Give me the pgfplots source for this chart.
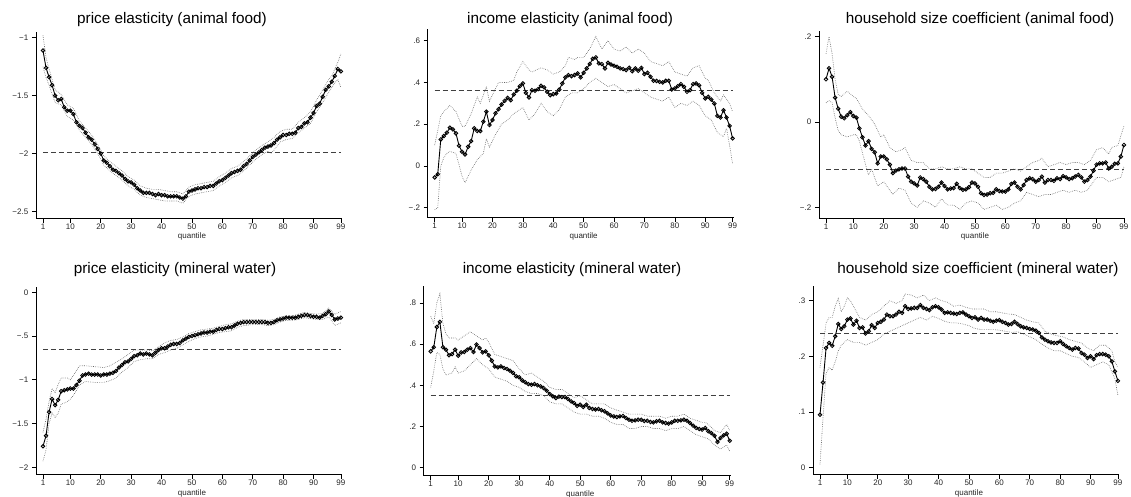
\documentclass[border=0pt]{standalone}
\usepackage{pgfplots}
\pgfplotsset{compat=1.18}
\usepackage{fontspec}
\setmainfont{Liberation Sans}

\pgfplotsset{
  qplot/.style={
    scale only axis, width=305.8pt, xmin=-1.3, xmax=99.3,
    axis x line*=bottom, axis y line*=left,
    axis line style={black, line width=0.7pt},
    tick align=outside, major tick length=4.2pt,
    every tick/.style={black, line width=0.6pt},
    xtick={1,10,20,30,40,50,60,70,80,90,99},
    xticklabels={1,10,20,30,40,50,60,70,80,90,99},
    ticklabel style={font=\fontsize{8}{9}\selectfont, text=black!85},
    xticklabel style={yshift=2.5pt},
    xlabel={quantile},
    xlabel style={font=\fontsize{8}{9}\selectfont, text=black!85, at={(axis description cs:0.51,0)}, anchor=center, yshift=-18.4pt},
    clip=false,
  },
  est/.style={black, line width=0.9pt, mark=o, mark size=1.8pt, mark options={line width=0.85pt, solid}},
  ols/.style={black!75, line width=1pt, dash pattern=on 5pt off 3pt, no marks},
  band/.style={black!60, line width=0.65pt, dash pattern=on 0.6pt off 1.2pt, no marks},
}
\newcommand{\ttl}{\fontsize{15.3}{17}\selectfont}

\begin{document}
\begin{tikzpicture}
\useasboundingbox (0,0) rectangle (1131pt,496pt);

% ---------- price elasticity (animal food)
\begin{axis}[qplot, at={(36pt,277.7pt)}, anchor=south west, height=186.3pt,
  ymin=-2.56, ymax=-0.95, ytick={-2.5,-2,-1.5,-1}, yticklabels={−2.5,−2,−1.5,−1}]
\addplot[band] coordinates {(1,-0.98)(2,-1.17)(3,-1.27)(5,-1.45)(7,-1.49)(9,-1.58)(11,-1.61)(13,-1.72)(15,-1.78)(17,-1.84)(19,-1.92)(21,-2.02)(23,-2.07)(25,-2.11)(27,-2.15)(29,-2.20)(31,-2.23)(33,-2.28)(35,-2.30)(37,-2.31)(39,-2.31)(41,-2.32)(43,-2.33)(45,-2.33)(47,-2.35)(49,-2.29)(51,-2.27)(53,-2.26)(55,-2.25)(57,-2.24)(59,-2.20)(61,-2.17)(63,-2.13)(65,-2.11)(67,-2.07)(69,-2.02)(71,-1.97)(73,-1.93)(75,-1.90)(77,-1.86)(79,-1.81)(81,-1.79)(83,-1.79)(85,-1.73)(87,-1.69)(89,-1.64)(91,-1.54)(93,-1.45)(95,-1.36)(96,-1.33)(97,-1.27)(98,-1.21)(99,-1.14)};
\addplot[band] coordinates {(1,-1.25)(2,-1.34)(3,-1.41)(5,-1.56)(7,-1.58)(9,-1.68)(11,-1.71)(13,-1.80)(15,-1.86)(17,-1.92)(19,-2.00)(21,-2.10)(23,-2.15)(25,-2.19)(27,-2.23)(29,-2.28)(31,-2.31)(33,-2.36)(35,-2.38)(37,-2.39)(39,-2.40)(41,-2.41)(43,-2.41)(45,-2.41)(47,-2.43)(49,-2.37)(51,-2.35)(53,-2.34)(55,-2.33)(57,-2.32)(59,-2.28)(61,-2.25)(63,-2.21)(65,-2.19)(67,-2.15)(69,-2.10)(71,-2.05)(73,-2.01)(75,-1.98)(76,-2.00)(77,-1.97)(79,-1.90)(81,-1.88)(83,-1.87)(85,-1.82)(87,-1.78)(89,-1.74)(91,-1.64)(93,-1.56)(95,-1.47)(96,-1.43)(97,-1.39)(98,-1.36)(99,-1.43)};
\addplot[ols] coordinates {(1,-1.99)(99,-1.99)};
\addplot[est] table[row sep=\\, x=q, y=v] {q v\\
1 -1.11\\ 2 -1.26\\ 3 -1.34\\ 4 -1.41\\ 5 -1.50\\ 6 -1.54\\ 7 -1.53\\ 8 -1.60\\ 9 -1.63\\ 10 -1.63\\
11 -1.66\\ 12 -1.73\\ 13 -1.76\\ 14 -1.78\\ 15 -1.82\\ 16 -1.86\\ 17 -1.88\\ 18 -1.92\\ 19 -1.96\\ 20 -2.00\\
21 -2.06\\ 22 -2.08\\ 23 -2.11\\ 24 -2.14\\ 25 -2.15\\ 26 -2.17\\ 27 -2.19\\ 28 -2.22\\ 29 -2.24\\ 30 -2.25\\
31 -2.27\\ 32 -2.30\\ 33 -2.32\\ 34 -2.34\\ 35 -2.34\\ 36 -2.34\\ 37 -2.35\\ 38 -2.36\\ 39 -2.35\\ 40 -2.36\\
41 -2.36\\ 42 -2.37\\ 43 -2.37\\ 44 -2.37\\ 45 -2.37\\ 46 -2.38\\ 47 -2.39\\ 48 -2.37\\ 49 -2.33\\ 50 -2.32\\
51 -2.31\\ 52 -2.30\\ 53 -2.30\\ 54 -2.29\\ 55 -2.29\\ 56 -2.28\\ 57 -2.28\\ 58 -2.26\\ 59 -2.24\\ 60 -2.23\\
61 -2.21\\ 62 -2.19\\ 63 -2.17\\ 64 -2.16\\ 65 -2.15\\ 66 -2.14\\ 67 -2.11\\ 68 -2.09\\ 69 -2.06\\ 70 -2.03\\
71 -2.01\\ 72 -1.99\\ 73 -1.97\\ 74 -1.95\\ 75 -1.94\\ 76 -1.93\\ 77 -1.91\\ 78 -1.88\\ 79 -1.86\\ 80 -1.84\\
81 -1.84\\ 82 -1.83\\ 83 -1.83\\ 84 -1.82\\ 85 -1.78\\ 86 -1.77\\ 87 -1.74\\ 88 -1.73\\ 89 -1.69\\ 90 -1.65\\
91 -1.59\\ 92 -1.57\\ 93 -1.51\\ 94 -1.45\\ 95 -1.42\\ 96 -1.38\\ 97 -1.33\\ 98 -1.27\\ 99 -1.29\\};
\end{axis}

% ---------- income elasticity (animal food)
\begin{axis}[qplot, at={(427.7pt,278.3pt)}, anchor=south west, height=188.5pt,
  ymin=-0.248, ymax=0.655, ytick={-0.2,0,0.2,0.4,0.6}, yticklabels={−.2,0,.2,.4,.6}]
\addplot[band] coordinates {(1,0.10)(2,0.17)(3,0.24)(4,0.26)(6,0.29)(8,0.26)(10,0.19)(11,0.19)(13,0.25)(15,0.33)(16,0.30)(18,0.38)(19,0.31)(20,0.34)(22,0.40)(25,0.40)(27,0.41)(28,0.45)(30,0.50)(32,0.46)(33,0.45)(36,0.47)(38,0.46)(40,0.44)(42,0.45)(44,0.48)(45,0.52)(47,0.51)(48,0.52)(50,0.52)(52,0.56)(54,0.62)(56,0.56)(58,0.60)(60,0.56)(62,0.55)(64,0.57)(66,0.54)(68,0.56)(70,0.54)(72,0.50)(74,0.49)(76,0.48)(78,0.50)(80,0.45)(82,0.44)(84,0.43)(86,0.47)(88,0.48)(90,0.42)(91,0.41)(93,0.35)(95,0.31)(96,0.34)(98,0.30)(99,0.26)};
\addplot[band] coordinates {(1,-0.21)(2,-0.20)(3,0.00)(4,0.04)(5,0.06)(6,0.07)(8,0.06)(10,-0.05)(11,-0.08)(13,-0.02)(15,0.03)(17,0.06)(18,0.13)(19,0.09)(21,0.15)(23,0.20)(25,0.22)(27,0.25)(30,0.28)(32,0.22)(34,0.25)(36,0.30)(38,0.26)(40,0.24)(42,0.27)(44,0.33)(46,0.35)(48,0.35)(50,0.37)(52,0.40)(54,0.42)(56,0.40)(58,0.38)(60,0.39)(62,0.37)(64,0.35)(66,0.36)(68,0.37)(70,0.35)(72,0.33)(74,0.32)(76,0.31)(78,0.33)(80,0.28)(82,0.30)(84,0.29)(86,0.31)(88,0.29)(90,0.24)(92,0.22)(94,0.16)(96,0.14)(97,0.18)(98,0.10)(99,0.01)};
\addplot[ols] coordinates {(1,0.36)(99,0.36)};
\addplot[est] table[row sep=\\, x=q, y=v] {q v\\
1 -0.055\\ 2 -0.04\\ 3 0.127\\ 4 0.143\\ 5 0.159\\ 6 0.183\\ 7 0.175\\ 8 0.156\\ 9 0.097\\ 10 0.068\\
11 0.055\\ 12 0.092\\ 13 0.119\\ 14 0.18\\ 15 0.167\\ 16 0.167\\ 17 0.212\\ 18 0.26\\ 19 0.196\\ 20 0.22\\
21 0.252\\ 22 0.272\\ 23 0.294\\ 24 0.312\\ 25 0.326\\ 26 0.315\\ 27 0.342\\ 28 0.36\\ 29 0.382\\ 30 0.395\\
31 0.35\\ 32 0.328\\ 33 0.363\\ 34 0.36\\ 35 0.368\\ 36 0.384\\ 37 0.376\\ 38 0.355\\ 39 0.339\\ 40 0.344\\
41 0.347\\ 42 0.366\\ 43 0.395\\ 44 0.424\\ 45 0.435\\ 46 0.43\\ 47 0.435\\ 48 0.443\\ 49 0.424\\ 50 0.446\\
51 0.467\\ 52 0.488\\ 53 0.513\\ 54 0.52\\ 55 0.491\\ 56 0.488\\ 57 0.467\\ 58 0.494\\ 59 0.486\\ 60 0.48\\
61 0.475\\ 62 0.467\\ 63 0.464\\ 64 0.459\\ 65 0.47\\ 66 0.454\\ 67 0.467\\ 68 0.456\\ 69 0.47\\ 70 0.44\\
71 0.446\\ 72 0.427\\ 73 0.408\\ 74 0.407\\ 75 0.403\\ 76 0.40\\ 77 0.408\\ 78 0.408\\ 79 0.366\\ 80 0.371\\
81 0.382\\ 82 0.392\\ 83 0.379\\ 84 0.355\\ 85 0.363\\ 86 0.392\\ 87 0.395\\ 88 0.386\\ 89 0.35\\ 90 0.323\\
91 0.331\\ 92 0.318\\ 93 0.299\\ 94 0.24\\ 95 0.232\\ 96 0.267\\ 97 0.232\\ 98 0.192\\ 99 0.132\\};
\end{axis}

% ---------- household size coefficient (animal food)
\begin{axis}[qplot, at={(819pt,277.7pt)}, anchor=south west, height=187.6pt,
  ymin=-0.2258, ymax=0.214, ytick={-0.2,0,0.2}, yticklabels={−.2,0,.2}]
\addplot[band] coordinates {(1,0.16)(2,0.20)(3,0.16)(4,0.10)(5,0.065)(6,0.06)(8,0.072)(10,0.06)(11,0.055)(13,0.03)(15,0.015)(17,-0.005)(18,-0.02)(19,-0.035)(20,-0.03)(22,-0.06)(24,-0.07)(26,-0.065)(27,-0.06)(29,-0.09)(31,-0.095)(33,-0.095)(35,-0.11)(37,-0.11)(39,-0.105)(41,-0.11)(43,-0.11)(45,-0.105)(47,-0.11)(49,-0.11)(51,-0.12)(53,-0.13)(55,-0.13)(57,-0.12)(59,-0.12)(61,-0.115)(63,-0.11)(65,-0.115)(67,-0.105)(69,-0.095)(71,-0.09)(72,-0.085)(74,-0.105)(76,-0.10)(78,-0.095)(80,-0.10)(82,-0.095)(84,-0.095)(86,-0.10)(88,-0.09)(90,-0.065)(92,-0.06)(94,-0.075)(95,-0.06)(97,-0.055)(99,-0.01)};
\addplot[band] coordinates {(1,0.045)(2,0.05)(3,0.045)(4,0.01)(5,-0.02)(6,-0.03)(8,-0.035)(10,-0.03)(11,-0.03)(12,-0.045)(14,-0.10)(15,-0.124)(16,-0.11)(18,-0.15)(20,-0.14)(22,-0.16)(23,-0.17)(25,-0.155)(27,-0.16)(29,-0.19)(31,-0.20)(33,-0.185)(35,-0.19)(37,-0.20)(39,-0.18)(41,-0.195)(43,-0.195)(45,-0.205)(47,-0.19)(49,-0.185)(51,-0.19)(53,-0.205)(55,-0.20)(57,-0.195)(59,-0.205)(61,-0.20)(63,-0.19)(65,-0.185)(67,-0.165)(69,-0.17)(71,-0.175)(73,-0.17)(75,-0.17)(77,-0.165)(79,-0.16)(81,-0.165)(83,-0.16)(85,-0.165)(87,-0.16)(89,-0.14)(90,-0.13)(92,-0.13)(94,-0.14)(96,-0.135)(98,-0.13)(99,-0.105)};
\addplot[ols] coordinates {(1,-0.112)(99,-0.112)};
\addplot[est] table[row sep=\\, x=q, y=v] {q v\\
1 0.10\\ 2 0.126\\ 3 0.106\\ 4 0.057\\ 5 0.031\\ 6 0.0125\\ 7 0.0086\\ 8 0.016\\ 9 0.023\\ 10 0.014\\
11 0.010\\ 12 -0.015\\ 13 -0.036\\ 14 -0.055\\ 15 -0.045\\ 16 -0.063\\ 17 -0.071\\ 18 -0.097\\ 19 -0.081\\ 20 -0.081\\
21 -0.0875\\ 22 -0.10\\ 23 -0.12\\ 24 -0.114\\ 25 -0.111\\ 26 -0.109\\ 27 -0.109\\ 28 -0.128\\ 29 -0.14\\ 30 -0.144\\
31 -0.149\\ 32 -0.13\\ 33 -0.134\\ 34 -0.14\\ 35 -0.152\\ 36 -0.158\\ 37 -0.157\\ 38 -0.152\\ 39 -0.142\\ 40 -0.15\\
41 -0.158\\ 42 -0.156\\ 43 -0.155\\ 44 -0.145\\ 45 -0.155\\ 46 -0.159\\ 47 -0.158\\ 48 -0.153\\ 49 -0.142\\ 50 -0.144\\
51 -0.152\\ 52 -0.167\\ 53 -0.171\\ 54 -0.17\\ 55 -0.167\\ 56 -0.166\\ 57 -0.158\\ 58 -0.162\\ 59 -0.163\\ 60 -0.163\\
61 -0.158\\ 62 -0.145\\ 63 -0.142\\ 64 -0.152\\ 65 -0.158\\ 66 -0.148\\ 67 -0.136\\ 68 -0.132\\ 69 -0.134\\ 70 -0.14\\
71 -0.136\\ 72 -0.128\\ 73 -0.142\\ 74 -0.136\\ 75 -0.136\\ 76 -0.138\\ 77 -0.132\\ 78 -0.134\\ 79 -0.127\\ 80 -0.13\\
81 -0.134\\ 82 -0.132\\ 83 -0.128\\ 84 -0.124\\ 85 -0.13\\ 86 -0.14\\ 87 -0.136\\ 88 -0.128\\ 89 -0.114\\ 90 -0.10\\
91 -0.097\\ 92 -0.097\\ 93 -0.095\\ 94 -0.109\\ 95 -0.105\\ 96 -0.098\\ 97 -0.097\\ 98 -0.081\\ 99 -0.054\\};
\end{axis}

% ---------- price elasticity (mineral water)
\begin{axis}[qplot, at={(36pt,21.3pt)}, anchor=south west, height=187.4pt,
  ymin=-2.085, ymax=0.057, ytick={-2,-1.5,-1,-0.5,0}, yticklabels={−2,−1.5,−1,−.5,0}]
\addplot[band] coordinates {(1,-1.60)(2,-1.45)(3,-1.25)(4,-1.10)(5,-1.15)(6,-1.05)(7,-0.98)(9,-0.98)(10,-1.0)(11,-0.95)(13,-0.84)(15,-0.84)(18,-0.85)(21,-0.86)(23,-0.84)(25,-0.80)(27,-0.76)(29,-0.71)(31,-0.66)(33,-0.66)(35,-0.66)(37,-0.67)(39,-0.62)(41,-0.58)(43,-0.55)(45,-0.54)(47,-0.51)(49,-0.47)(51,-0.45)(53,-0.43)(55,-0.42)(57,-0.41)(59,-0.39)(61,-0.37)(63,-0.36)(65,-0.33)(67,-0.31)(70,-0.31)(73,-0.31)(75,-0.32)(77,-0.31)(79,-0.28)(81,-0.27)(83,-0.27)(85,-0.25)(87,-0.23)(89,-0.24)(91,-0.25)(93,-0.24)(95,-0.18)(97,-0.25)(99,-0.22)};
\addplot[band] coordinates {(1,-1.93)(2,-1.80)(3,-1.50)(4,-1.38)(5,-1.43)(6,-1.38)(7,-1.28)(9,-1.25)(10,-1.22)(11,-1.18)(13,-1.06)(15,-1.02)(18,-1.03)(21,-1.03)(23,-1.01)(25,-0.98)(27,-0.91)(29,-0.86)(31,-0.79)(33,-0.77)(35,-0.76)(37,-0.76)(39,-0.71)(41,-0.69)(43,-0.66)(45,-0.64)(47,-0.60)(49,-0.56)(51,-0.53)(53,-0.51)(55,-0.50)(57,-0.48)(59,-0.46)(61,-0.45)(63,-0.44)(65,-0.40)(67,-0.38)(70,-0.37)(73,-0.37)(75,-0.38)(77,-0.37)(79,-0.34)(81,-0.32)(83,-0.32)(85,-0.31)(87,-0.29)(89,-0.30)(91,-0.31)(93,-0.31)(95,-0.28)(97,-0.38)(99,-0.35)};
\addplot[ols] coordinates {(1,-0.655)(99,-0.655)};
\addplot[est] table[row sep=\\, x=q, y=v] {q v\\
1 -1.76\\ 2 -1.64\\ 3 -1.37\\ 4 -1.22\\ 5 -1.29\\ 6 -1.23\\ 7 -1.13\\ 8 -1.12\\ 9 -1.11\\ 10 -1.10\\
11 -1.10\\ 12 -1.06\\ 13 -1.01\\ 14 -0.95\\ 15 -0.94\\ 16 -0.93\\ 17 -0.94\\ 18 -0.94\\ 19 -0.94\\ 20 -0.95\\
21 -0.94\\ 22 -0.94\\ 23 -0.93\\ 24 -0.92\\ 25 -0.90\\ 26 -0.86\\ 27 -0.83\\ 28 -0.80\\ 29 -0.79\\ 30 -0.76\\
31 -0.73\\ 32 -0.72\\ 33 -0.70\\ 34 -0.71\\ 35 -0.70\\ 36 -0.71\\ 37 -0.72\\ 38 -0.69\\ 39 -0.66\\ 40 -0.64\\
41 -0.64\\ 42 -0.62\\ 43 -0.60\\ 44 -0.59\\ 45 -0.59\\ 46 -0.58\\ 47 -0.55\\ 48 -0.53\\ 49 -0.51\\ 50 -0.50\\
51 -0.49\\ 52 -0.48\\ 53 -0.47\\ 54 -0.46\\ 55 -0.46\\ 56 -0.45\\ 57 -0.45\\ 58 -0.43\\ 59 -0.42\\ 60 -0.42\\
61 -0.41\\ 62 -0.40\\ 63 -0.40\\ 64 -0.38\\ 65 -0.36\\ 66 -0.35\\ 67 -0.34\\ 68 -0.34\\ 69 -0.34\\ 70 -0.34\\
71 -0.34\\ 72 -0.34\\ 73 -0.34\\ 74 -0.34\\ 75 -0.35\\ 76 -0.35\\ 77 -0.34\\ 78 -0.32\\ 79 -0.31\\ 80 -0.30\\
81 -0.29\\ 82 -0.29\\ 83 -0.29\\ 84 -0.29\\ 85 -0.28\\ 86 -0.27\\ 87 -0.26\\ 88 -0.26\\ 89 -0.27\\ 90 -0.28\\
91 -0.28\\ 92 -0.29\\ 93 -0.27\\ 94 -0.25\\ 95 -0.22\\ 96 -0.26\\ 97 -0.31\\ 98 -0.30\\ 99 -0.29\\};
\end{axis}

% ---------- income elasticity (mineral water)
\begin{axis}[qplot, at={(423.7pt,20.3pt)}, anchor=south west, height=190pt, width=306.9pt,
  ymin=-0.039, ymax=0.884, ytick={0,0.2,0.4,0.6,0.8}, yticklabels={0,.2,.4,.6,.8}]
\addplot[band] coordinates {(1,0.735)(2,0.70)(3,0.80)(4,0.845)(5,0.70)(6,0.65)(7,0.63)(9,0.63)(10,0.62)(12,0.64)(14,0.66)(16,0.64)(18,0.62)(19,0.63)(20,0.61)(22,0.55)(24,0.54)(26,0.53)(28,0.52)(30,0.48)(32,0.45)(34,0.46)(36,0.44)(38,0.42)(40,0.39)(42,0.38)(44,0.38)(46,0.36)(48,0.34)(50,0.35)(52,0.33)(54,0.31)(56,0.31)(58,0.31)(60,0.29)(62,0.28)(64,0.27)(66,0.26)(68,0.26)(70,0.26)(72,0.25)(74,0.25)(76,0.25)(78,0.24)(80,0.25)(82,0.25)(84,0.26)(86,0.24)(88,0.23)(90,0.22)(91,0.22)(92,0.21)(94,0.18)(96,0.17)(98,0.21)(99,0.18)};
\addplot[band] coordinates {(1,0.39)(2,0.47)(3,0.56)(4,0.55)(5,0.48)(6,0.45)(8,0.46)(9,0.49)(10,0.46)(12,0.47)(14,0.50)(16,0.53)(18,0.50)(20,0.48)(22,0.44)(24,0.43)(26,0.42)(28,0.40)(30,0.39)(32,0.37)(34,0.36)(36,0.36)(38,0.35)(40,0.32)(42,0.31)(44,0.31)(46,0.29)(48,0.27)(50,0.26)(52,0.26)(54,0.25)(56,0.25)(58,0.24)(60,0.22)(62,0.21)(64,0.21)(66,0.19)(68,0.19)(70,0.20)(72,0.20)(74,0.19)(76,0.19)(78,0.18)(80,0.19)(82,0.19)(84,0.20)(86,0.18)(88,0.16)(90,0.15)(92,0.14)(94,0.11)(96,0.09)(98,0.11)(99,0.08)};
\addplot[ols] coordinates {(1,0.353)(99,0.353)};
\addplot[est] table[row sep=\\, x=q, y=v] {q v\\
1 0.565\\ 2 0.585\\ 3 0.683\\ 4 0.708\\ 5 0.585\\ 6 0.573\\ 7 0.546\\ 8 0.552\\ 9 0.573\\ 10 0.544\\
11 0.56\\ 12 0.562\\ 13 0.573\\ 14 0.581\\ 15 0.562\\ 16 0.598\\ 17 0.581\\ 18 0.56\\ 19 0.565\\ 20 0.546\\
21 0.52\\ 22 0.492\\ 23 0.487\\ 24 0.492\\ 25 0.484\\ 26 0.479\\ 27 0.471\\ 28 0.46\\ 29 0.444\\ 30 0.439\\
31 0.424\\ 32 0.415\\ 33 0.406\\ 34 0.403\\ 35 0.406\\ 36 0.40\\ 37 0.395\\ 38 0.387\\ 39 0.374\\ 40 0.358\\
41 0.347\\ 42 0.338\\ 43 0.345\\ 44 0.343\\ 45 0.343\\ 46 0.334\\ 47 0.322\\ 48 0.314\\ 49 0.30\\ 50 0.306\\
51 0.295\\ 52 0.306\\ 53 0.29\\ 54 0.285\\ 55 0.283\\ 56 0.285\\ 57 0.279\\ 58 0.274\\ 59 0.264\\ 60 0.254\\
61 0.249\\ 62 0.246\\ 63 0.249\\ 64 0.251\\ 65 0.241\\ 66 0.233\\ 67 0.228\\ 68 0.23\\ 69 0.233\\ 70 0.233\\
71 0.227\\ 72 0.228\\ 73 0.222\\ 74 0.22\\ 75 0.225\\ 76 0.228\\ 77 0.22\\ 78 0.217\\ 79 0.214\\ 80 0.22\\
81 0.228\\ 82 0.228\\ 83 0.23\\ 84 0.233\\ 85 0.228\\ 86 0.217\\ 87 0.204\\ 88 0.193\\ 89 0.188\\ 90 0.185\\
91 0.193\\ 92 0.177\\ 93 0.168\\ 94 0.155\\ 95 0.125\\ 96 0.144\\ 97 0.157\\ 98 0.165\\ 99 0.131\\};
\end{axis}

% ---------- household size coefficient (mineral water)
\begin{axis}[qplot, at={(813pt,21.3pt)}, anchor=south west, height=189.1pt,
  ymin=-0.0126, ymax=0.327, ytick={0,0.1,0.2,0.3}, yticklabels={0,.1,.2,.3}]
\addplot[band] coordinates {(1,0.18)(2,0.22)(3,0.26)(4,0.27)(5,0.27)(6,0.29)(7,0.304)(8,0.28)(9,0.29)(10,0.305)(11,0.30)(12,0.29)(13,0.28)(14,0.27)(16,0.265)(18,0.275)(20,0.28)(22,0.29)(24,0.30)(26,0.295)(28,0.30)(29,0.312)(31,0.31)(33,0.305)(35,0.31)(37,0.30)(39,0.305)(41,0.30)(43,0.297)(45,0.29)(47,0.292)(49,0.288)(51,0.285)(53,0.285)(55,0.285)(57,0.28)(59,0.28)(61,0.278)(63,0.276)(65,0.275)(67,0.27)(69,0.265)(71,0.262)(73,0.26)(75,0.245)(77,0.24)(79,0.237)(81,0.235)(83,0.23)(85,0.227)(87,0.224)(89,0.215)(91,0.21)(93,0.22)(95,0.22)(97,0.21)(98,0.19)(99,0.18)};
\addplot[band] coordinates {(1,0.006)(2,0.09)(3,0.17)(4,0.18)(5,0.175)(6,0.19)(7,0.21)(8,0.22)(10,0.23)(12,0.225)(14,0.225)(16,0.22)(18,0.225)(20,0.23)(22,0.24)(24,0.245)(26,0.25)(28,0.255)(30,0.26)(32,0.265)(34,0.27)(36,0.265)(38,0.272)(40,0.268)(42,0.263)(44,0.26)(46,0.26)(48,0.258)(50,0.255)(52,0.25)(54,0.248)(56,0.248)(58,0.248)(60,0.247)(62,0.245)(64,0.243)(66,0.244)(68,0.24)(70,0.235)(72,0.23)(74,0.222)(76,0.215)(78,0.21)(80,0.21)(82,0.205)(84,0.20)(86,0.198)(88,0.19)(90,0.18)(92,0.185)(94,0.19)(96,0.185)(98,0.16)(99,0.13)};
\addplot[ols] coordinates {(1,0.241)(99,0.241)};
\addplot[est] table[row sep=\\, x=q, y=v] {q v\\
1 0.095\\ 2 0.153\\ 3 0.215\\ 4 0.224\\ 5 0.219\\ 6 0.236\\ 7 0.258\\ 8 0.249\\ 9 0.254\\ 10 0.266\\
11 0.268\\ 12 0.257\\ 13 0.264\\ 14 0.251\\ 15 0.252\\ 16 0.241\\ 17 0.245\\ 18 0.256\\ 19 0.251\\ 20 0.26\\
21 0.262\\ 22 0.266\\ 23 0.275\\ 24 0.272\\ 25 0.272\\ 26 0.275\\ 27 0.28\\ 28 0.278\\ 29 0.29\\ 30 0.285\\
31 0.286\\ 32 0.287\\ 33 0.287\\ 34 0.292\\ 35 0.287\\ 36 0.285\\ 37 0.283\\ 38 0.288\\ 39 0.29\\ 40 0.288\\
41 0.284\\ 42 0.278\\ 43 0.279\\ 44 0.278\\ 45 0.277\\ 46 0.276\\ 47 0.278\\ 48 0.279\\ 49 0.275\\ 50 0.272\\
51 0.269\\ 52 0.27\\ 53 0.266\\ 54 0.269\\ 55 0.266\\ 56 0.266\\ 57 0.264\\ 58 0.262\\ 59 0.264\\ 60 0.265\\
61 0.262\\ 62 0.26\\ 63 0.257\\ 64 0.258\\ 65 0.262\\ 66 0.258\\ 67 0.254\\ 68 0.252\\ 69 0.251\\ 70 0.249\\
71 0.248\\ 72 0.246\\ 73 0.242\\ 74 0.234\\ 75 0.23\\ 76 0.227\\ 77 0.225\\ 78 0.224\\ 79 0.224\\ 80 0.227\\
81 0.222\\ 82 0.218\\ 83 0.215\\ 84 0.212\\ 85 0.215\\ 86 0.214\\ 87 0.206\\ 88 0.203\\ 89 0.197\\ 90 0.20\\
91 0.195\\ 92 0.202\\ 93 0.204\\ 94 0.204\\ 95 0.203\\ 96 0.20\\ 97 0.191\\ 98 0.173\\ 99 0.156\\};
\end{axis}

% panel titles
\node[font=\ttl] at (172pt,476pt) {price elasticity (animal food)};
\node[font=\ttl] at (570pt,476pt) {income elasticity (animal food)};
\node[font=\ttl] at (980pt,476pt) {household size coefficient (animal food)};
\node[font=\ttl] at (175pt,226pt) {price elasticity (mineral water)};
\node[font=\ttl] at (572pt,226pt) {income elasticity (mineral water)};
\node[font=\ttl] at (978pt,226pt) {household size coefficient (mineral water)};
\end{tikzpicture}
\end{document}
